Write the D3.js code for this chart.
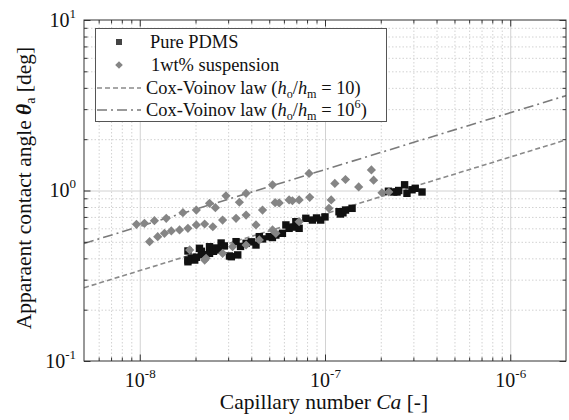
<!doctype html>
<html>
<head>
<script src="https://cdnjs.cloudflare.com/ajax/libs/d3/7.8.5/d3.min.js"></script>
<style>
  body { margin: 0; background: #fff; }
  svg { font-family: "Liberation Serif", "Times New Roman", serif; }
</style>
</head>
<body>
<svg id="chart" width="569" height="420"></svg>
<script>
// Pure PDMS (black squares)
var pdmsCa = [1.82e-8, 1.82e-8, 1.82e-8, 1.90e-8, 1.98e-8, 2.02e-8, 2.10e-8, 2.15e-8, 2.20e-8, 2.38e-8,
  2.38e-8, 2.50e-8, 2.60e-8, 2.69e-8, 2.75e-8, 2.86e-8, 3.05e-8, 3.12e-8, 3.38e-8, 3.31e-8,
  3.50e-8, 3.75e-8, 4.00e-8, 4.24e-8, 4.42e-8, 4.60e-8, 5.00e-8, 5.20e-8, 5.43e-8, 5.89e-8,
  6.15e-8, 6.40e-8, 6.70e-8, 6.96e-8, 7.25e-8, 7.88e-8, 8.55e-8, 9.00e-8, 9.48e-8, 1.00e-7,
  1.19e-7, 1.21e-7, 1.25e-7, 1.29e-7, 1.40e-7, 2.20e-7, 2.35e-7, 2.45e-7, 2.50e-7, 2.69e-7,
  2.77e-7, 2.95e-7, 3.07e-7, 3.34e-7];
var pdmsTheta = [0.442, 0.391, 0.382, 0.400, 0.391, 0.406, 0.458, 0.440, 0.420, 0.428,
  0.468, 0.440, 0.460, 0.448, 0.492, 0.473, 0.413, 0.409, 0.419, 0.501,
  0.470, 0.490, 0.500, 0.479, 0.536, 0.520, 0.536, 0.530, 0.548, 0.561,
  0.628, 0.600, 0.610, 0.656, 0.600, 0.687, 0.671, 0.690, 0.671, 0.700,
  0.751, 0.728, 0.740, 0.768, 0.786, 0.990, 0.980, 0.980, 1.000, 1.080,
  0.963, 1.010, 1.030, 0.980];

// 1wt% suspension (grey diamonds)
var suspCa = [0.96e-8, 1.06e-8, 1.20e-8, 1.39e-8, 1.71e-8, 2.02e-8, 2.38e-8, 2.56e-8, 2.92e-8, 3.45e-8,
  3.75e-8, 5.21e-8, 5.38e-8, 4.60e-8, 6.67e-8, 8.20e-8, 1.13e-7, 1.29e-7, 1.52e-7, 1.78e-7,
  1.83e-7, 1.13e-8, 1.25e-8, 1.36e-8, 1.48e-8, 1.64e-8, 1.82e-8, 2.02e-8, 2.24e-8, 2.48e-8,
  2.80e-8, 3.31e-8, 3.75e-8, 4.24e-8, 5.21e-8, 5.66e-8, 6.40e-8, 7.25e-8, 8.27e-8, 1.08e-7,
  1.05e-7, 2.28e-8, 3.17e-8, 4.42e-8, 5.43e-8, 1.86e-8, 2.24e-8, 2.80e-8, 3.75e-8, 7.25e-8,
  2.03e-7, 2.21e-7];
var suspTheta = [0.633, 0.642, 0.665, 0.687, 0.741, 0.768, 0.841, 0.793, 0.930, 0.853,
  0.963, 1.080, 0.848, 0.768, 0.871, 1.260, 1.100, 1.160, 1.050, 1.320,
  1.150, 0.501, 0.536, 0.561, 0.579, 0.587, 0.600, 0.628, 0.636, 0.613,
  0.671, 0.687, 0.718, 0.628, 0.587, 0.845, 0.880, 0.880, 0.912, 0.880,
  0.786, 0.400, 0.468, 0.513, 0.561, 0.448, 0.391, 0.428, 0.479, 0.656,
  0.970, 0.980];

// Cox-Voinov law lines (end points)
var cvLowCa = [5e-9, 2e-6], cvLowTheta = [0.269, 1.98];
var cvHighCa = [5e-9, 2e-6], cvHighTheta = [0.489, 3.6];

// ticks
var xMajor = [1e-8, 1e-7, 1e-6], xExp = ["-8", "-7", "-6"];
var yMajor = [0.1, 1, 10], yExp = ["-1", "0", "1"];

var L = 84, R = 566, T = 20, B = 361;
var svg = d3.select("#chart");
var x = d3.scaleLog().domain([5e-9, 2e-6]).range([L, R]);
var y = d3.scaleLog().domain([0.1, 10]).range([B, T]);

function minorTicks(dom) {
  var out = [];
  for (var e = -10; e <= 2; e++)
    for (var k = 2; k <= 9; k++) {
      var v = k * Math.pow(10, e);
      if (v > dom[0] * 1.0001 && v < dom[1] * 0.9999) out.push(v);
    }
  return out;
}
var xMinor = minorTicks(x.domain()), yMinor = minorTicks(y.domain());

// grid
function gridStyle(g, dash) {
  g.select(".domain").remove();
  g.selectAll("line").attr("stroke", "#d2d2d2").attr("stroke-width", 1)
    .attr("stroke-dasharray", dash);
}
svg.append("g").attr("transform", "translate(0," + B + ")")
  .call(d3.axisBottom(x).tickValues(xMinor).tickSize(-(B - T)).tickFormat(""))
  .call(g => gridStyle(g, "1.5,2"));
svg.append("g").attr("transform", "translate(" + L + ",0)")
  .call(d3.axisLeft(y).tickValues(yMinor).tickSize(-(R - L)).tickFormat(""))
  .call(g => gridStyle(g, "1.5,2"));
svg.append("g").attr("transform", "translate(0," + B + ")")
  .call(d3.axisBottom(x).tickValues(xMajor).tickSize(-(B - T)).tickFormat(""))
  .call(g => gridStyle(g, null));
svg.append("g").attr("transform", "translate(" + L + ",0)")
  .call(d3.axisLeft(y).tickValues([1]).tickSize(-(R - L)).tickFormat(""))
  .call(g => gridStyle(g, null));

// model lines
svg.append("clipPath").attr("id", "clip").append("rect")
  .attr("x", L).attr("y", T).attr("width", R - L).attr("height", B - T);
var line = d3.line().x(d => x(d[0])).y(d => y(d[1]));
svg.append("path").attr("clip-path", "url(#clip)")
  .attr("d", line(d3.zip(cvLowCa, cvLowTheta)))
  .attr("fill", "none").attr("stroke", "#8a8a8a").attr("stroke-width", 1.6)
  .attr("stroke-dasharray", "5,3");
svg.append("path").attr("clip-path", "url(#clip)")
  .attr("d", line(d3.zip(cvHighCa, cvHighTheta)))
  .attr("fill", "none").attr("stroke", "#7a7a7a").attr("stroke-width", 1.6)
  .attr("stroke-dasharray", "10,4,2,4");

// points
var sq = 7.4;
svg.append("g").selectAll("rect")
  .data(d3.zip(pdmsCa, pdmsTheta)).enter().append("rect")
  .attr("x", d => x(d[0]) - sq / 2).attr("y", d => y(d[1]) - sq / 2)
  .attr("width", sq).attr("height", sq).attr("fill", "#111");
var diamond = "M0,-4.6L4.6,0L0,4.6L-4.6,0Z";
svg.append("g").selectAll("path")
  .data(d3.zip(suspCa, suspTheta)).enter().append("path")
  .attr("d", diamond)
  .attr("transform", d => "translate(" + x(d[0]) + "," + y(d[1]) + ")")
  .attr("fill", "#858585");

// frame ticks
function tickStyle(g) {
  g.select(".domain").remove();
  g.selectAll("line").attr("stroke", "#333").attr("stroke-width", 1);
}
function supLabels(g, exps) {
  g.selectAll(".tick text").each(function (d, i) {
    var t = d3.select(this).text("10").attr("fill", "#111");
    t.append("tspan").attr("dy", -9).attr("font-size", 13).text(exps[i]);
  });
}
svg.append("g").attr("transform", "translate(0," + B + ")")
  .call(d3.axisBottom(x).tickValues(xMinor).tickSize(-3.5).tickFormat("")).call(tickStyle);
svg.append("g").attr("transform", "translate(0," + T + ")")
  .call(d3.axisTop(x).tickValues(xMinor).tickSize(-3.5).tickFormat("")).call(tickStyle);
svg.append("g").attr("transform", "translate(" + L + ",0)")
  .call(d3.axisLeft(y).tickValues(yMinor).tickSize(-3.5).tickFormat("")).call(tickStyle);
svg.append("g").attr("transform", "translate(" + R + ",0)")
  .call(d3.axisRight(y).tickValues(yMinor).tickSize(-3.5).tickFormat("")).call(tickStyle);

svg.append("g").attr("transform", "translate(0," + B + ")")
  .call(d3.axisBottom(x).tickValues(xMajor).tickSize(-6.5).tickPadding(12).tickFormat(() => "10"))
  .call(tickStyle)
  .call(g => g.selectAll("text").attr("font-size", 20).attr("font-family", "Liberation Serif"))
  .call(g => supLabels(g, xExp));
svg.append("g").attr("transform", "translate(0," + T + ")")
  .call(d3.axisTop(x).tickValues(xMajor).tickSize(-6.5).tickFormat("")).call(tickStyle);
svg.append("g").attr("transform", "translate(" + L + ",0)")
  .call(d3.axisLeft(y).tickValues(yMajor).tickSize(-6.5).tickPadding(8).tickFormat(() => "10"))
  .call(tickStyle)
  .call(g => g.selectAll("text").attr("font-size", 20).attr("font-family", "Liberation Serif")
    .attr("text-anchor", "end"))
  .call(g => supLabels(g, yExp));
svg.append("g").attr("transform", "translate(" + R + ",0)")
  .call(d3.axisRight(y).tickValues(yMajor).tickSize(-6.5).tickFormat("")).call(tickStyle);

svg.append("rect").attr("x", L).attr("y", T).attr("width", R - L).attr("height", B - T)
  .attr("fill", "none").attr("stroke", "#333").attr("stroke-width", 1);

// axis titles
var xt = svg.append("text").attr("x", 324).attr("y", 409).attr("text-anchor", "middle")
  .attr("font-size", 21.5).attr("fill", "#111");
xt.append("tspan").text("Capillary number ");
xt.append("tspan").attr("font-style", "italic").text("Ca");
xt.append("tspan").text(" [-]");

var yt = svg.append("text").attr("transform", "translate(31,188) rotate(-90)")
  .attr("text-anchor", "middle").attr("font-size", 21.5).attr("fill", "#111");
yt.append("tspan").text("Apparaent contact angle ");
yt.append("tspan").attr("font-style", "italic").attr("font-weight", "bold").text("θ");
yt.append("tspan").attr("font-size", 14).attr("dy", 4).text("a");
yt.append("tspan").attr("dy", -4).text(" [deg]");

// legend
var lg = svg.append("g");
lg.append("rect").attr("x", 95.5).attr("y", 28.5).attr("width", 291).attr("height", 93)
  .attr("fill", "#fff").attr("stroke", "#555").attr("stroke-width", 1);
var rowY = [42, 65, 88, 110];
lg.append("rect").attr("x", 119 - 3).attr("y", rowY[0] - 3).attr("width", 6).attr("height", 6)
  .attr("fill", "#444");
lg.append("path").attr("d", "M0,-3.8L3.8,0L0,3.8L-3.8,0Z")
  .attr("transform", "translate(119," + rowY[1] + ")").attr("fill", "#858585");
lg.append("line").attr("x1", 97).attr("x2", 141).attr("y1", rowY[2]).attr("y2", rowY[2])
  .attr("stroke", "#8a8a8a").attr("stroke-width", 1.6).attr("stroke-dasharray", "5,3");
lg.append("line").attr("x1", 97).attr("x2", 141).attr("y1", rowY[3]).attr("y2", rowY[3])
  .attr("stroke", "#7a7a7a").attr("stroke-width", 1.6).attr("stroke-dasharray", "10,4,2,4");

function legText(xp, yp) {
  return lg.append("text").attr("x", xp).attr("y", yp + 5.5).attr("font-size", 18.4).attr("fill", "#111");
}
legText(150, rowY[0]).text("Pure PDMS");
legText(151, rowY[1]).text("1wt% suspension");
function cvText(yp, val, sup) {
  var t = legText(146, yp);
  t.append("tspan").text("Cox-Voinov law (");
  t.append("tspan").attr("font-style", "italic").text("h");
  t.append("tspan").attr("font-size", 12.2).attr("dy", 4).text("o");
  t.append("tspan").attr("dy", -4).text("/");
  t.append("tspan").attr("font-style", "italic").text("h");
  t.append("tspan").attr("font-size", 12.2).attr("dy", 4).text("m");
  t.append("tspan").attr("dy", -4).text(" = " + val);
  if (sup) {
    t.append("tspan").attr("font-size", 12.2).attr("dy", -8).text(sup);
    t.append("tspan").attr("dy", 8).text(")");
  } else {
    t.append("tspan").text(")");
  }
}
cvText(rowY[2], "10", null);
cvText(rowY[3], "10", "6");
</script>
</body>
</html>
